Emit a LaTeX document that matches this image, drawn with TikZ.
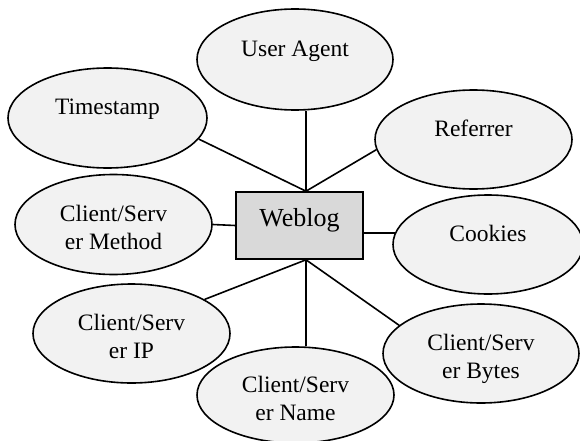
\documentclass[tikz,border=0pt]{standalone}
\usepackage{fontspec}
\setmainfont{Liberation Serif}
\usetikzlibrary{shapes.geometric}
\definecolor{ellfill}{HTML}{F2F2F2}
\definecolor{boxfill}{HTML}{D9D9D9}
\begin{document}
\begin{tikzpicture}[x=1pt,y=-1pt,
  ell/.style={ellipse,draw=black,line width=1.6pt,fill=ellfill,inner sep=0pt},
  txt/.style={anchor=base,align=center,inner sep=0pt,font=\fontsize{23.5}{28}\selectfont},
  hub/.style={rectangle,draw=black,line width=1.6pt,fill=boxfill,inner sep=0pt,
    minimum width=127pt,minimum height=67pt,text height=12pt,text depth=10pt,
    font=\fontsize{26}{30}\selectfont},
  conn/.style={line width=1.6pt}]
\useasboundingbox (0,0) rectangle (580,441);
\fill[white] (0,0) rectangle (580,441);
% hub
\node[hub] (box) at (299.5,225.5) {Weblog};
\coordinate (top) at ([xshift=6.5pt]box.north);
\coordinate (bot) at ([xshift=6.5pt]box.south);
% ellipses
\node[ell,minimum width=196pt,minimum height=101pt] (ua) at (295,59.5) {};
\node[ell,minimum width=199pt,minimum height=100pt] (ts) at (107.5,118) {};
\node[ell,minimum width=197pt,minimum height=99pt] (ref) at (473.5,139.5) {};
\node[ell,minimum width=197pt,minimum height=100pt] (meth) at (113.5,224.5) {};
\node[ell,minimum width=190pt,minimum height=99pt] (cook) at (488,244.5) {};
\node[ell,minimum width=197pt,minimum height=99pt] (ip) at (131.5,333.5) {};
\node[ell,minimum width=196pt,minimum height=99pt] (bytes) at (481,353.5) {};
\node[ell,minimum width=197pt,minimum height=96pt] (name) at (295.5,395) {};
% texts (base anchor = last line)
\node[txt] (ua-t) at ([yshift=2.5pt]ua.center) {User Agent};
\node[txt] (ts-t) at ([yshift=3.5pt]ts.center) {Timestamp};
\node[txt] (ref-t) at ([yshift=3.5pt]ref.center) {Referrer};
\node[txt] (meth-t) at ([yshift=-24.5pt]meth.center) {Client/Serv\\er Method};
\node[txt] (cook-t) at ([yshift=3.5pt]cook.center) {Cookies};
\node[txt] (ip-t) at ([yshift=-24.5pt]ip.center) {Client/Serv\\er IP};
\node[txt] (bytes-t) at ([yshift=-24.5pt]bytes.center) {Client/Serv\\er Bytes};
\node[txt] (name-t) at ([yshift=-25pt]name.center) {Client/Serv\\er Name};
% connectors
\draw[conn] (top |- ua.south) -- (top);
\draw[conn] (ts.-13.7) -- (top);
\draw[conn] (ref.186.3) -- (top);
\draw[conn] (meth.east) -- (box.west);
\draw[conn] (cook.173.4) -- (cook.173.4 -| box.east);
\draw[conn] (ip.25.5) -- (bot);
\draw[conn] (bot) -- (bot |- name.north);
\draw[conn] (bytes.161.7) -- (bot);
\end{tikzpicture}
\end{document}
